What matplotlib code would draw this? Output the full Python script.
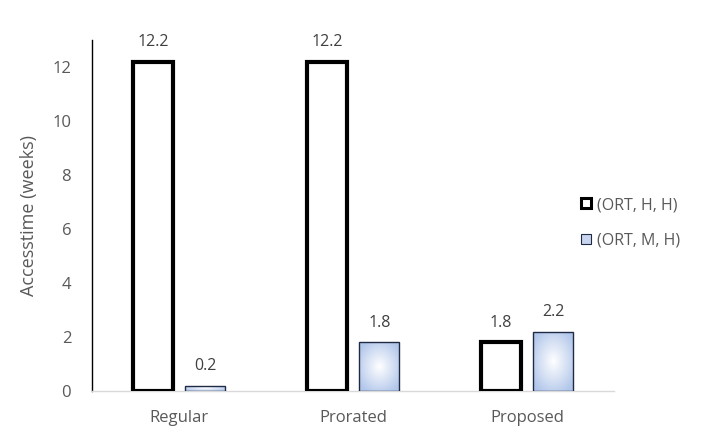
import numpy as np
import matplotlib.pyplot as plt
from matplotlib.patches import Patch

categories = ["Regular", "Prorated", "Proposed"]
ort_h_h = [12.2, 12.2, 1.8]
ort_m_h = [0.2, 1.8, 2.2]
labels_hh = ["12.2", "12.2", "1.8"]
labels_mh = ["0.2", "1.8", "2.2"]

txt = "#595959"
plt.rcParams['font.family'] = ['Open Sans', 'DejaVu Sans']

fig = plt.figure(figsize=(7.27, 4.34), dpi=100)
ax = fig.add_axes([0.1265, 0.099, 0.7185, 0.809])

x = np.arange(len(categories))
w = 0.23
off = 0.15

b1 = ax.bar(x - off, ort_h_h, w, facecolor="white", edgecolor="black", linewidth=3, zorder=3)
b2 = ax.bar(x + off, ort_m_h, w, facecolor="#b4c6e7", edgecolor="#1f2a44", linewidth=1.0, zorder=3)

# radial gradient inside the blue bars
yy, xx = np.mgrid[-1:1:100j, -1:1:100j]
r = np.clip(np.sqrt(xx**2 + yy**2) / 1.2, 0, 1)
c0 = np.array([1.0, 1.0, 1.0])
c1 = np.array([0.70, 0.78, 0.92])
grad = c0[None, None, :] * (1 - r[..., None]) + c1[None, None, :] * r[..., None]
for rect in b2:
    x0, y0 = rect.get_x(), rect.get_y()
    im = ax.imshow(grad, extent=[x0, x0 + rect.get_width(), y0, y0 + rect.get_height()],
                   aspect="auto", zorder=3.5, interpolation="bilinear")
    im.set_clip_path(rect)
    rect.set_facecolor("none")
    rect.set_zorder(4)

for xi, v, s in zip(x - off, ort_h_h, labels_hh):
    ax.text(xi, v + 0.42, s, ha="center", va="bottom", fontsize=11.5, color="#404040")
for xi, v, s in zip(x + off, ort_m_h, labels_mh):
    ax.text(xi, v + 0.42, s, ha="center", va="bottom", fontsize=11.5, color="#404040")

ax.set_xlim(-0.5, 2.5)
ax.set_ylim(0, 13)
ax.set_yticks(range(0, 13, 2))
ax.set_xticks(x)
ax.set_xticklabels(categories)
ax.tick_params(length=0, labelsize=12, colors=txt, pad=14)
ax.tick_params(axis="y", pad=15)
ax.set_ylabel("Accesstime (weeks)", fontsize=13, color=txt, labelpad=10)

for s in ["top", "right"]:
    ax.spines[s].set_visible(False)
ax.spines["left"].set_color("black")
ax.spines["left"].set_linewidth(1.0)
ax.spines["bottom"].set_color("#d9d9d9")
ax.spines["bottom"].set_linewidth(1.0)

handles = [Patch(facecolor="white", edgecolor="black", linewidth=2.2),
           Patch(facecolor="#c9d5ee", edgecolor="#1f2a44", linewidth=0.8)]
leg = fig.legend(handles, ["(ORT, H, H)", "(ORT, M, H)"], loc="center left",
                 bbox_to_anchor=(0.78, 0.487), frameon=False, fontsize=11.5,
                 handlelength=0.6, handleheight=0.6, handletextpad=0.4, labelspacing=1.2,
                 labelcolor=txt)

fig.savefig("out.png", dpi=100)
